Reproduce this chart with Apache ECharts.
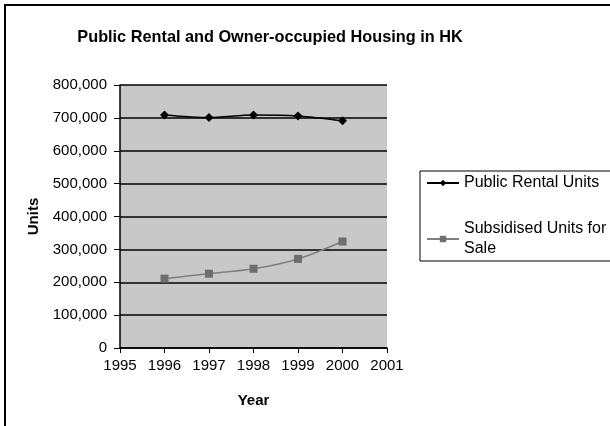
<!DOCTYPE html>
<html>
<head>
<meta charset="utf-8">
<script src="https://cdn.jsdelivr.net/npm/echarts@6/dist/echarts.min.js"></script>
<style>
  html, body { margin: 0; padding: 0; background: #fff; }
  #chart { width: 610px; height: 426px; }
</style>
</head>
<body>
<div id="chart"></div>
<script>
// data
var years = [1996, 1997, 1998, 1999, 2000];
var publicRental = [709000, 701000, 709000, 706000, 691000];
var subsidisedSale = [211000, 226000, 241000, 271000, 324000];
var seriesNames = ["Public Rental Units", "Subsidised Units for\nSale"];

var chart = echarts.init(document.getElementById("chart"));
var font = "Liberation Sans, Arial, sans-serif";

function pairs(vals) {
  return years.map(function (y, i) { return [y, vals[i]]; });
}

chart.setOption({
  animation: false,
  textStyle: { fontFamily: font },
  title: {
    text: "Public Rental and Owner-occupied Housing in HK",
    left: 265,
    top: 25,
    textAlign: "center",
    textStyle: { fontSize: 16.3, fontWeight: "bold", color: "#000", fontFamily: font }
  },
  graphic: [
    {
      type: "rect",
      shape: { x: 5, y: 5, width: 620, height: 440 },
      style: { fill: "none", stroke: "#000", lineWidth: 2 },
      silent: true
    }
  ],
  legend: {
    orient: "vertical",
    left: 420,
    top: 171,
    padding: [2, 60, 2, 6],
    itemGap: 26,
    itemWidth: 32,
    itemHeight: 8,
    borderColor: "#000",
    borderWidth: 1,
    backgroundColor: "#fff",
    textStyle: { fontSize: 16, color: "#000", fontFamily: font, lineHeight: 20 },
    data: seriesNames
  },
  grid: { left: 120, right: 223, top: 85, bottom: 78, show: true, backgroundColor: "#c8c8c8", borderWidth: 0 },
  xAxis: {
    type: "value",
    min: 1995,
    max: 2001,
    interval: 1,
    name: "Year",
    nameLocation: "middle",
    nameGap: 45,
    nameTextStyle: { fontSize: 15, fontWeight: "bold", color: "#000", fontFamily: font },
    axisLine: { lineStyle: { color: "#000", width: 1.5 } },
    axisTick: { show: true, length: 5, lineStyle: { color: "#000" } },
    axisLabel: {
      color: "#000", fontSize: 15, margin: 10, fontFamily: font,
      formatter: function (v) { return String(v); }
    },
    splitLine: { show: false }
  },
  yAxis: {
    type: "value",
    min: 0,
    max: 800000,
    interval: 100000,
    name: "Units",
    nameLocation: "middle",
    nameGap: 79,
    nameTextStyle: { fontSize: 15, fontWeight: "bold", color: "#000", fontFamily: font },
    axisLine: { show: true, lineStyle: { color: "#000", width: 1.5 } },
    axisTick: { show: true, length: 6, lineStyle: { color: "#000" } },
    axisLabel: { color: "#000", fontSize: 15, margin: 13, fontFamily: font },
    splitLine: { show: true, lineStyle: { color: "#000", width: 1.5 } }
  },
  series: [
    {
      name: seriesNames[0],
      type: "line",
      data: pairs(publicRental),
      smooth: 0.3,
      symbol: "diamond",
      symbolSize: 9,
      lineStyle: { color: "#000", width: 1.5 },
      itemStyle: { color: "#000" }
    },
    {
      name: seriesNames[1],
      type: "line",
      data: pairs(subsidisedSale),
      smooth: 0.3,
      symbol: "rect",
      symbolSize: 8,
      lineStyle: { color: "#7f7f7f", width: 1.5 },
      itemStyle: { color: "#6e6e6e" }
    }
  ]
});
</script>
</body>
</html>
